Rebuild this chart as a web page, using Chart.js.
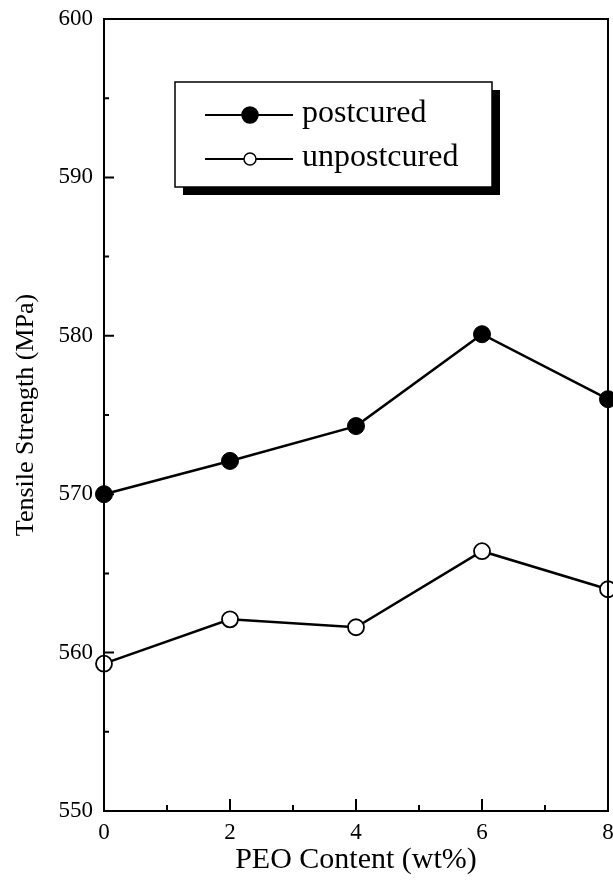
<!DOCTYPE html>
<html>
<head>
<meta charset="utf-8">
<script src="https://cdn.jsdelivr.net/npm/chart.js@4.4.0/dist/chart.umd.min.js"></script>
<style>
  body { margin: 0; background: #fff; }
</style>
</head>
<body>
<canvas id="chart" width="613" height="886"></canvas>
<script>
var peoContent = [0, 2, 4, 6, 8]
var postcured = [570.0, 572.1, 574.3, 580.1, 576.0]
var unpostcured = [559.3, 562.1, 561.6, 566.4, 564.0]
var seriesNames = ['postcured', 'unpostcured']
var xLabels = ['0', '2', '4', '6', '8']
var yLabels = ['550', '560', '570', '580', '590', '600']

var serif = "'Liberation Serif', 'Times New Roman', serif"

function toPoints(ys) {
  return peoContent.map(function (x, i) { return { x: x, y: ys[i] } })
}

// ticks drawn on the inside of the frame, plus top/right border
var frameTicks = {
  id: 'frameTicks',
  afterDatasetsDraw: function (chart) {
    var ctx = chart.ctx
    var a = chart.chartArea
    var xs = chart.scales.x
    var ys = chart.scales.y
    ctx.save()
    ctx.strokeStyle = '#000'
    ctx.lineWidth = 2
    ctx.strokeRect(a.left, a.top, a.right - a.left, a.bottom - a.top)
    ctx.beginPath()
    ys.ticks.forEach(function (t) {
      var py = ys.getPixelForValue(t.value)
      var len = t.value % 10 === 0 ? 10 : 5
      ctx.moveTo(a.left, py)
      ctx.lineTo(a.left + len, py)
    })
    xs.ticks.forEach(function (t) {
      var px = xs.getPixelForValue(t.value)
      var len = t.value % 2 === 0 ? 12 : 6
      ctx.moveTo(px, a.bottom)
      ctx.lineTo(px, a.bottom - len)
    })
    ctx.stroke()
    ctx.restore()
  }
}

// boxed legend with a drop shadow
var boxLegend = {
  id: 'boxLegend',
  afterDraw: function (chart) {
    var ctx = chart.ctx
    var x = 175, y = 82, w = 317, h = 105
    var markR = [8, 6]
    ctx.save()
    ctx.fillStyle = '#000'
    ctx.fillRect(x + 8, y + 8, w, h)
    ctx.fillStyle = '#fff'
    ctx.fillRect(x, y, w, h)
    ctx.strokeStyle = '#000'
    ctx.lineWidth = 1.5
    ctx.strokeRect(x, y, w, h)
    chart.data.datasets.forEach(function (ds, i) {
      var ry = 115 + i * 44
      ctx.beginPath()
      ctx.lineWidth = 2
      ctx.moveTo(205, ry)
      ctx.lineTo(293, ry)
      ctx.stroke()
      ctx.beginPath()
      ctx.arc(250, ry, markR[i], 0, Math.PI * 2)
      ctx.fillStyle = ds.pointBackgroundColor
      ctx.fill()
      ctx.lineWidth = 1.5
      ctx.stroke()
      ctx.fillStyle = '#000'
      ctx.font = '32px ' + serif
      ctx.textBaseline = 'middle'
      ctx.fillText(ds.label, 302, ry - 1)
    })
    ctx.restore()
  }
}

var ctx = document.getElementById('chart').getContext('2d')
var myChart = new Chart(ctx, {
  type: 'line',
  data: {
    datasets: [
      {
        label: seriesNames[0],
        data: toPoints(postcured),
        borderColor: '#000',
        borderWidth: 2.5,
        pointRadius: 8.5,
        pointBackgroundColor: '#000',
        pointBorderColor: '#000',
        pointBorderWidth: 1,
        clip: false,
      },
      {
        label: seriesNames[1],
        data: toPoints(unpostcured),
        borderColor: '#000',
        borderWidth: 2.5,
        pointRadius: 8,
        pointBackgroundColor: '#fff',
        pointBorderColor: '#000',
        pointBorderWidth: 1.8,
        clip: false,
      },
    ],
  },
  options: {
    responsive: false,
    animation: false,
    layout: { autoPadding: false, padding: { top: 19, right: 5, left: 0, bottom: 0 } },
    plugins: { legend: { display: false }, tooltip: { enabled: false } },
    scales: {
      x: {
        type: 'linear',
        min: 0,
        max: 8,
        grid: { display: false, drawTicks: false },
        border: { display: true, color: '#000', width: 2 },
        ticks: {
          stepSize: 1,
          color: '#000',
          padding: 8,
          maxRotation: 0,
          font: { family: serif, size: 23 },
          callback: function (v) { return v % 2 === 0 ? xLabels[v / 2] : '' },
        },
        title: {
          display: true,
          text: 'PEO Content (wt%)',
          color: '#000',
          font: { family: serif, size: 30 },
          padding: { top: 10, bottom: 8 },
        },
        afterFit: function (s) {
          s.height = 75
          s.paddingLeft = 0
          s.paddingRight = 0
        },
      },
      y: {
        min: 550,
        max: 600,
        grid: { display: false, drawTicks: false },
        border: { display: true, color: '#000', width: 2 },
        ticks: {
          stepSize: 5,
          color: '#000',
          padding: 11,
          font: { family: serif, size: 23 },
          callback: function (v) { return v % 10 === 0 ? yLabels[(v - 550) / 10] : '' },
        },
        title: {
          display: true,
          text: 'Tensile Strength (MPa)',
          color: '#000',
          font: { family: serif, size: 26 },
          padding: { top: 11, bottom: 0 },
        },
        afterFit: function (s) {
          s.width = 104
          s.paddingTop = 0
          s.paddingBottom = 0
        },
      },
    },
  },
  plugins: [frameTicks, boxLegend],
})
</script>
</body>
</html>
